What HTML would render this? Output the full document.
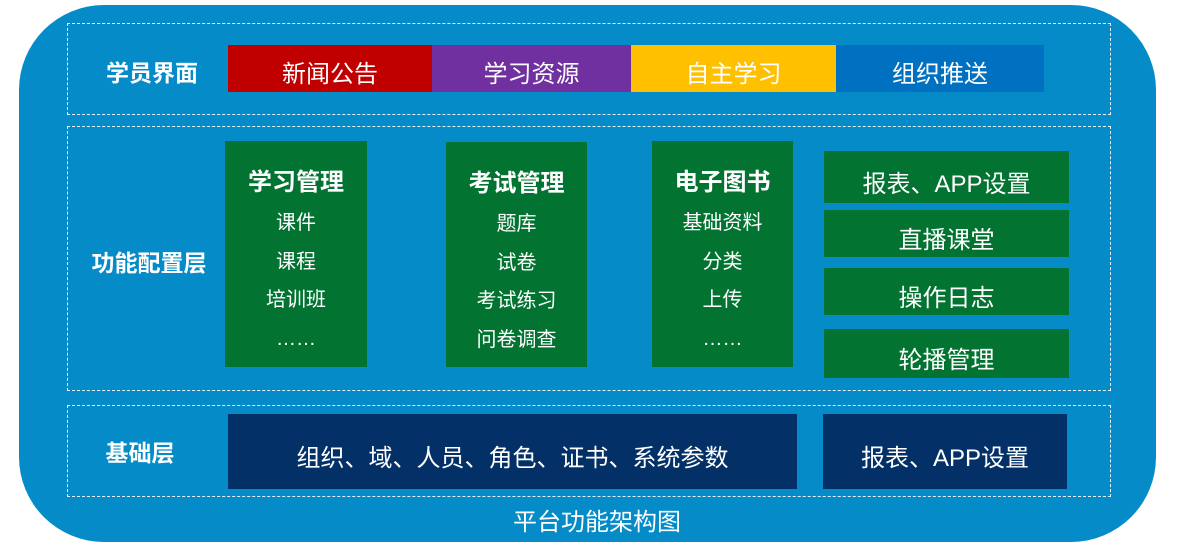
<!DOCTYPE html>
<html><head><meta charset="utf-8"><style>
body{margin:0;width:1180px;height:546px;background:#fff;position:relative;overflow:hidden;font-family:"Liberation Sans","Noto Sans CJK SC",sans-serif;color:#fff}
div{position:absolute;box-sizing:border-box}
.o{left:19px;top:5px;width:1137px;height:537px;background:#058cc8;border-radius:85px}
.d{left:67px;width:1044px;border:1px dashed #e8f4fb}
.l{font-weight:bold;font-size:23px;text-align:center;width:160px;left:70px}
.c{display:flex;align-items:center;justify-content:center;font-size:24px}
.g{background:#027330;padding-top:8px}
.col{background:#027330;text-align:center;font-size:20px;line-height:38.7px;padding-top:22px}
.col b{display:block;font-size:24px;line-height:40px;margin-bottom:1px}
.n{background:#023067;padding-top:8px}
.t{padding-top:6px}
</style></head><body>
<div class="o"></div>
<div class="d" style="top:23px;height:92px"></div>
<div class="d" style="top:126px;height:265px"></div>
<div class="d" style="top:405px;height:92px"></div>
<div class="l" style="top:54px;left:72px">学员界面</div>
<div class="l" style="top:244px;left:69px">功能配置层</div>
<div class="l" style="top:434px;left:60px">基础层</div>
<div class="c t" style="left:228px;top:45px;width:204px;height:47px;background:#c00000">新闻公告</div>
<div class="c t" style="left:432px;top:45px;width:199px;height:47px;background:#7030a0">学习资源</div>
<div class="c t" style="left:631px;top:45px;width:205px;height:47px;background:#ffc000">自主学习</div>
<div class="c t" style="left:836px;top:45px;width:208px;height:47px;background:#0070c0">组织推送</div>
<div class="col" style="left:225px;top:141px;width:142px;height:226px"><b>学习管理</b>课件<br>课程<br>培训班<br>……</div>
<div class="col" style="left:446px;top:142px;width:141px;height:225px"><b>考试管理</b>题库<br>试卷<br>考试练习<br>问卷调查</div>
<div class="col" style="left:652px;top:141px;width:141px;height:226px"><b>电子图书</b>基础资料<br>分类<br>上传<br>……</div>
<div class="c g" style="left:824px;top:151px;width:245px;height:52px">报表、APP设置</div>
<div class="c g" style="left:824px;top:210px;width:245px;height:47px">直播课堂</div>
<div class="c g" style="left:824px;top:268px;width:245px;height:47px">操作日志</div>
<div class="c g" style="left:824px;top:329px;width:245px;height:49px">轮播管理</div>
<div class="c n" style="left:228px;top:414px;width:569px;height:75px">组织、域、人员、角色、证书、系统参数</div>
<div class="c n" style="left:823px;top:414px;width:244px;height:75px">报表、APP设置</div>
<div class="c" style="left:460px;top:503px;width:274px;height:32px;font-size:24px">平台功能架构图</div>
</body></html>
